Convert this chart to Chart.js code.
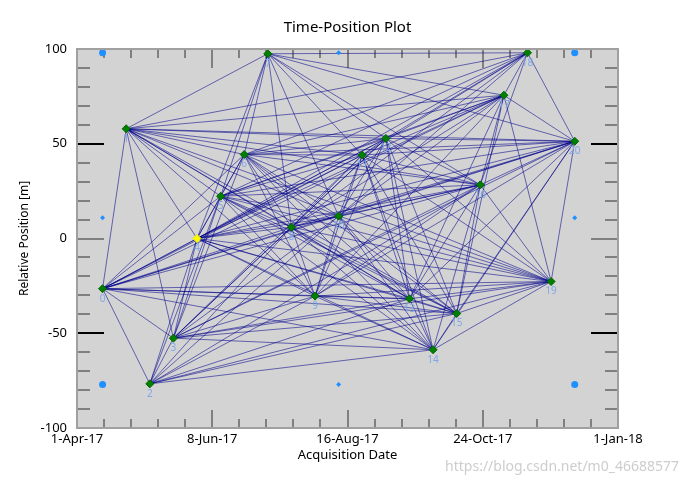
<!DOCTYPE html>
<html>
<head>
<meta charset="utf-8">
<script src="https://cdn.jsdelivr.net/npm/chart.js@4.4.1/dist/chart.umd.min.js"></script>
<style>
html,body{margin:0;padding:0;background:#fff;}
#wrap{width:688px;height:485px;position:relative;}
</style>
</head>
<body>
<div id="wrap"><canvas id="c" width="688" height="485"></canvas></div>
<script>
// ---------------- data ----------------
const chartTitle = 'Time-Position Plot';
const nodeLabels = ['0','1','2','3','4','5','6','7','8','9','10','11','12','13','14','15','16','17','18','19','20'];
const acqDates = ['2017-04-14','2017-04-26','2017-05-08','2017-05-20','2017-06-01','2017-06-13','2017-06-25',
                  '2017-07-07','2017-07-19','2017-07-31','2017-08-12','2017-08-24','2017-09-05','2017-09-17',
                  '2017-09-29','2017-10-11','2017-10-23','2017-11-04','2017-11-16','2017-11-28','2017-12-10'];
const relPosition = [-26.5, 57.9, -76.7, -52.6, 0.0, 22.3, 44.3, 97.5, 6.0, -30.4, 11.8,
                     44.0, 52.8, -31.8, -58.7, -39.6, 28.3, 75.6, 98.0, -22.7, 51.3];
const superMaster = 4;
const edges = [
 [0,1],[0,2],[0,3],[0,4],[0,5],[0,6],[0,8],[0,9],[0,10],[0,11],[0,12],[0,13],[0,14],[0,15],[0,16],[0,17],[0,19],[0,20],
 [1,3],[1,4],[1,5],[1,6],[1,7],[1,8],[1,9],[1,10],[1,11],[1,12],[1,13],[1,15],[1,16],[1,17],[1,18],[1,19],[1,20],
 [2,3],[2,4],[2,5],[2,8],[2,9],[2,10],[2,13],[2,14],[2,15],[2,16],[2,19],
 [3,4],[3,5],[3,6],[3,8],[3,9],[3,10],[3,11],[3,12],[3,13],[3,14],[3,15],[3,16],[3,19],[3,20],
 [4,5],[4,6],[4,7],[4,8],[4,9],[4,10],[4,11],[4,12],[4,13],[4,14],[4,15],[4,16],[4,17],[4,18],[4,19],[4,20],
 [5,6],[5,7],[5,8],[5,9],[5,10],[5,11],[5,12],[5,13],[5,14],[5,15],[5,16],[5,17],[5,18],[5,19],[5,20],
 [6,7],[6,8],[6,9],[6,10],[6,11],[6,12],[6,13],[6,14],[6,15],[6,16],[6,17],[6,18],[6,19],[6,20],
 [7,8],[7,10],[7,11],[7,12],[7,16],[7,17],[7,18],[7,20],
 [8,9],[8,10],[8,11],[8,12],[8,13],[8,14],[8,15],[8,16],[8,17],[8,18],[8,19],[8,20],
 [9,10],[9,11],[9,12],[9,13],[9,14],[9,15],[9,16],[9,17],[9,19],[9,20],
 [10,11],[10,12],[10,13],[10,14],[10,15],[10,16],[10,17],[10,18],[10,19],[10,20],
 [11,12],[11,13],[11,14],[11,15],[11,16],[11,17],[11,18],[11,19],[11,20],
 [12,13],[12,14],[12,15],[12,16],[12,17],[12,18],[12,19],[12,20],
 [13,14],[13,15],[13,16],[13,17],[13,19],[13,20],
 [14,15],[14,16],[14,19],[14,20],
 [15,16],[15,17],[15,19],[15,20],
 [16,17],[16,18],[16,19],[16,20],
 [17,18],[17,19],[17,20],
 [18,20],
 [19,20]
];
const boundDates = ['2017-04-14','2017-08-12','2017-12-10'];
const boundPos = [98, 11, -77];
const xRange = ['2017-04-01','2018-01-01'];
const xTickLabels = ['1-Apr-17','8-Jun-17','16-Aug-17','24-Oct-17','1-Jan-18'];
const yTickValues = [-100, -50, 0, 50, 100];
const watermark = 'https://blog.csdn.net/m0_46688577';

// ---------------- build ----------------
const DAY = 86400000;
const t0 = Date.UTC(2017,3,1);
const toDay = s => { const p = s.split('-').map(Number); return (Date.UTC(p[0],p[1]-1,p[2]) - t0) / DAY; };
const xMin = toDay(xRange[0]), xMax = toDay(xRange[1]);
const xStep = (xMax - xMin) / (xTickLabels.length - 1);

const nodePts = acqDates.map((d,i) => ({x: toDay(d), y: relPosition[i]}));

const boundPts = [], boundStyles = [], boundRadii = [];
boundDates.forEach((d,i) => boundPos.forEach((p,j) => {
  if (i === 1 && j === 1) return;
  const corner = (i !== 1 && j !== 1);
  boundPts.push({x: toDay(d), y: p});
  boundStyles.push(corner ? 'circle' : 'rectRot');
  boundRadii.push(corner ? 3.5 : 2.5);
}));

const datasets = [];
datasets.push({
  label: 'nodes', data: nodePts, pointStyle: 'rectRot', pointRadius: 4,
  backgroundColor: nodePts.map((p,i) => i === superMaster ? '#ffff00' : '#008000'),
  borderColor: nodePts.map((p,i) => i === superMaster ? '#f0f000' : '#006400'),
  borderWidth: 1, showLine: false
});
datasets.push({
  label: 'bounds', data: boundPts, pointStyle: boundStyles, pointRadius: boundRadii,
  backgroundColor: '#1e90ff', borderColor: '#1e90ff', borderWidth: 0, showLine: false
});
edges.forEach(e => datasets.push({
  label: 'e', data: [nodePts[e[0]], nodePts[e[1]]], showLine: true,
  borderColor: 'rgba(0,0,139,0.55)', borderWidth: 1, pointRadius: 0, fill: false, tension: 0
}));

const FONT = "'Noto Sans', 'DejaVu Sans', sans-serif";

const plotDeco = {
  id: 'plotDeco',
  beforeDatasetsDraw(chart) {
    const {ctx, chartArea: a, scales: {x, y}} = chart;
    ctx.save();
    ctx.fillStyle = '#d3d3d3';
    ctx.fillRect(a.left, a.top, a.right - a.left, a.bottom - a.top);
    ctx.lineWidth = 2;
    const nMinor = (xTickLabels.length - 1) * 5;
    for (let k = 0; k <= nMinor; k++) {
      const px = Math.round(x.getPixelForValue(xMin + k * xStep / 5));
      const major = k % 5 === 0;
      ctx.strokeStyle = '#808080';
      ctx.beginPath();
      ctx.moveTo(px, a.bottom); ctx.lineTo(px, a.bottom - (major ? 18 : 9));
      ctx.moveTo(px, a.top); ctx.lineTo(px, a.top + (major ? 19 : 9));
      ctx.stroke();
    }
    for (let v = -100; v <= 100; v += 10) {
      const py = Math.round(y.getPixelForValue(v));
      const major = v % 50 === 0;
      ctx.strokeStyle = (v === 50 || v === -50) ? '#000000' : '#808080';
      ctx.beginPath();
      ctx.moveTo(a.left, py); ctx.lineTo(a.left + (major ? 27 : 13), py);
      ctx.moveTo(a.right, py); ctx.lineTo(a.right - (major ? 27 : 13), py);
      ctx.stroke();
    }
    ctx.restore();
  },
  afterDatasetsDraw(chart) {
    const {ctx, chartArea: a} = chart;
    ctx.save();
    const meta = chart.getDatasetMeta(0);
    ctx.font = "10px " + FONT;
    ctx.fillStyle = '#7fa8e6';
    ctx.textAlign = 'center';
    ctx.textBaseline = 'middle';
    meta.data.forEach((el, i) => ctx.fillText(nodeLabels[i], el.x, el.y + 10));
    ctx.strokeStyle = '#a0a0a0';
    ctx.lineWidth = 2;
    ctx.strokeRect(a.left, a.top, a.right - a.left, a.bottom - a.top);
    ctx.restore();
  },
  afterDraw(chart) {
    const {ctx, chartArea: a} = chart;
    ctx.save();
    ctx.font = "15px " + FONT;
    ctx.fillStyle = '#000';
    ctx.textAlign = 'center';
    ctx.textBaseline = 'middle';
    ctx.fillText(chartTitle, (a.left + a.right) / 2, 28);
    ctx.font = "14px " + FONT;
    ctx.fillStyle = 'rgba(200,200,200,0.9)';
    ctx.textAlign = 'right';
    ctx.fillText(watermark, 679, 467);
    ctx.restore();
  }
};

new Chart(document.getElementById('c'), {
  type: 'scatter',
  data: { datasets },
  plugins: [plotDeco],
  options: {
    responsive: false, animation: false, devicePixelRatio: 1,
    layout: { padding: { left: 0, right: 70, top: 49, bottom: 0 } },
    plugins: {
      legend: { display: false }, tooltip: { enabled: false }, title: { display: false }
    },
    scales: {
      x: {
        type: 'linear', min: xMin, max: xMax,
        grid: { display: false, drawTicks: false }, border: { display: false },
        ticks: { stepSize: xStep, autoSkip: false, maxRotation: 0, padding: 3, color: '#000',
                 font: { family: FONT, size: 13 },
                 callback: (v) => { const i = Math.round((v - xMin) / xStep); return xTickLabels[i]; } },
        title: { display: true, text: 'Acquisition Date', color: '#000', font: { family: FONT, size: 13 },
                 padding: { top: 0, bottom: 22 } },
        afterFit: s => { s.height = 57; s.paddingLeft = 0; s.paddingRight = 0; }
      },
      y: {
        type: 'linear', min: -100, max: 100,
        grid: { display: false, drawTicks: false }, border: { display: false },
        afterBuildTicks: s => { s.ticks = yTickValues.map(v => ({value: v})); },
        ticks: { padding: 10, color: '#000', font: { family: FONT, size: 13 } },
        title: { display: true, text: 'Relative Position [m]', color: '#000', font: { family: FONT, size: 12 },
                 padding: { top: 17, bottom: 0 } },
        afterFit: s => { s.width = 77; s.paddingTop = 0; s.paddingBottom = 0; }
      }
    }
  }
});
</script>
</body>
</html>
